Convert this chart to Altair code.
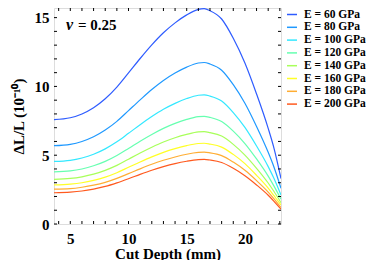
import altair as alt
import pandas as pd

# ---- data ----
depth = [3.6, 5, 6, 7, 8, 9, 10, 11, 12, 13, 14, 15, 16, 16.5, 17, 18, 19, 20, 21, 22, 22.5, 23.1]

dl_60  = [7.58, 7.72, 8.0, 8.45, 9.1, 9.95, 10.98, 12.03, 13.02, 13.9, 14.62, 15.2, 15.6, 15.65, 15.5, 14.9, 13.5, 11.7, 9.45, 6.95, 5.5, 3.3]
dl_80  = [5.69, 5.79, 6.0, 6.34, 6.83, 7.46, 8.24, 9.02, 9.77, 10.43, 10.97, 11.4, 11.7, 11.74, 11.63, 11.18, 10.13, 8.78, 7.09, 5.21, 4.13, 2.6]
dl_100 = [4.55, 4.63, 4.8, 5.07, 5.46, 5.97, 6.59, 7.22, 7.81, 8.34, 8.77, 9.12, 9.36, 9.39, 9.3, 8.94, 8.1, 7.02, 5.67, 4.17, 3.3, 2.1]
dl_120 = [3.79, 3.86, 4.0, 4.23, 4.55, 4.98, 5.49, 6.02, 6.51, 6.95, 7.31, 7.6, 7.8, 7.83, 7.75, 7.45, 6.75, 5.85, 4.73, 3.48, 2.75, 1.8]
dl_140 = [3.25, 3.31, 3.43, 3.62, 3.9, 4.26, 4.71, 5.16, 5.58, 5.96, 6.27, 6.51, 6.69, 6.71, 6.64, 6.39, 5.79, 5.01, 4.05, 2.98, 2.36, 1.55]
dl_160 = [2.84, 2.9, 3.0, 3.17, 3.41, 3.73, 4.12, 4.51, 4.88, 5.21, 5.48, 5.7, 5.85, 5.87, 5.81, 5.59, 5.06, 4.39, 3.54, 2.61, 2.06, 1.38]
dl_180 = [2.53, 2.57, 2.67, 2.82, 3.03, 3.32, 3.66, 4.01, 4.34, 4.63, 4.87, 5.07, 5.2, 5.22, 5.17, 4.97, 4.5, 3.9, 3.15, 2.32, 1.83, 1.2]
dl_200 = [2.27, 2.32, 2.4, 2.54, 2.73, 2.99, 3.29, 3.61, 3.91, 4.17, 4.39, 4.56, 4.68, 4.7, 4.65, 4.47, 4.05, 3.51, 2.84, 2.09, 1.65, 1.08]

moduli = [60, 80, 100, 120, 140, 160, 180, 200]
labels = [f"E = {e} GPa" for e in moduli]
colors = ["#2E5CFF", "#1F99FF", "#33E8FF", "#66FFB0", "#A8FF5A", "#FFFF26", "#FFAD33", "#FF5A1F"]

x_ticks = list(range(4, 24))
y_ticks = list(range(0, 16))
x_labels = [5, 10, 15, 20]
y_labels = [0, 5, 10, 15]

series = [dl_60, dl_80, dl_100, dl_120, dl_140, dl_160, dl_180, dl_200]
rows = []
for lab, vals in zip(labels, series):
    for d, v in zip(depth, vals):
        rows.append({"depth": d, "dl": v, "label": lab})
df = pd.DataFrame(rows)

W, H = 227, 216
FONT = "Liberation Serif"

xs = alt.Scale(domain=[3.6, 23.1], nice=False, zero=False)
ys = alt.Scale(domain=[0, 15.7], nice=False, zero=False)

lines = alt.Chart(df).mark_line(strokeWidth=1.2, interpolate="monotone", clip=True).encode(
    x=alt.X("depth:Q", scale=xs,
            axis=alt.Axis(values=x_labels, format="d", ticks=False, domain=False, grid=False,
                          labelFont=FONT, labelFontSize=15, labelFontWeight="bold", labelColor="black",
                          labelPadding=7, title="Cut Depth (mm)", titleFont=FONT, titleFontSize=15,
                          titleFontWeight="bold", titleColor="black", titlePadding=0)),
    y=alt.Y("dl:Q", scale=ys,
            axis=alt.Axis(values=y_labels, format="d", ticks=False, domain=False, grid=False,
                          labelFont=FONT, labelFontSize=15, labelFontWeight="bold", labelColor="black",
                          labelPadding=5, title="ΔL/L (10⁻¹⁰)", titleFont=FONT, titleFontSize=15,
                          titleFontWeight="bold", titleColor="black", titlePadding=8)),
    color=alt.Color("label:N", sort=labels, scale=alt.Scale(domain=labels, range=colors),
                    legend=alt.Legend(orient="none", legendX=232, legendY=0.5, title=None,
                                      symbolType="stroke", symbolSize=100, symbolStrokeWidth=1.5,
                                      labelFont=FONT, labelFontWeight="bold", labelFontSize=11.5,
                                      labelColor="black", rowPadding=0.8, padding=0, labelOffset=6,
                                      labelLimit=200)),
)

xt = pd.DataFrame({"t": x_ticks})
yt = pd.DataFrame({"t": y_ticks})
tick_bottom = alt.Chart(xt).mark_rule(color="black", strokeWidth=1).encode(
    x=alt.X("t:Q", scale=xs), y=alt.value(H), y2=alt.value(H - 3))
tick_top = alt.Chart(xt).mark_rule(color="black", strokeWidth=1).encode(
    x=alt.X("t:Q", scale=xs), y=alt.value(0), y2=alt.value(3))
tick_left = alt.Chart(yt).mark_rule(color="black", strokeWidth=1).encode(
    y=alt.Y("t:Q", scale=ys), x=alt.value(0), x2=alt.value(3))
tick_right = alt.Chart(yt).mark_rule(color="black", strokeWidth=1).encode(
    y=alt.Y("t:Q", scale=ys), x=alt.value(W), x2=alt.value(W - 3))

nu = alt.Chart(pd.DataFrame({"t": ["ν"]})).mark_text(
    font=FONT, fontSize=16, fontWeight="bold", fontStyle="italic", align="left",
    baseline="middle", color="black"
).encode(text="t:N", x=alt.value(12), y=alt.value(17))
note = alt.Chart(pd.DataFrame({"t": ["= 0.25"]})).mark_text(
    font=FONT, fontSize=15, fontWeight="bold", align="left", baseline="middle", color="black"
).encode(text="t:N", x=alt.value(24), y=alt.value(17))

chart = alt.layer(lines, tick_bottom, tick_top, tick_left, tick_right, nu, note).properties(
    width=W, height=H,
    autosize=alt.AutoSizeParams(type="none"),
    padding={"left": 46, "top": 0, "right": 85, "bottom": 36},
).configure_view(stroke="black", strokeWidth=1.5).configure(background="white")

chart.save("out.html", embed_options={"renderer": "svg", "actions": False})
